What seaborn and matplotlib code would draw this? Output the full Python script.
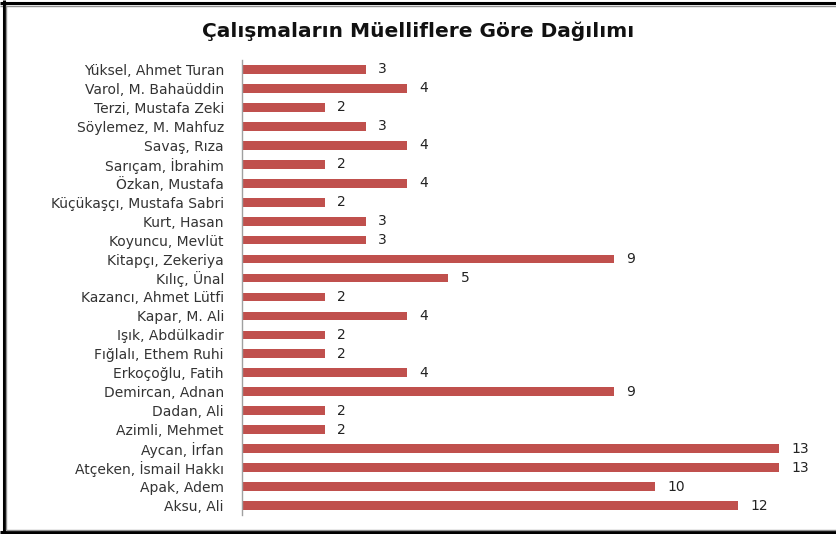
import matplotlib
matplotlib.use("Agg")
import matplotlib.pyplot as plt
import pandas as pd
import seaborn as sns
from matplotlib.lines import Line2D

# Data (top to bottom as shown)
authors = ["Yüksel, Ahmet Turan", "Varol, M. Bahaüddin", "Terzi, Mustafa Zeki",
           "Söylemez, M. Mahfuz", "Savaş, Rıza", "Sarıçam, İbrahim",
           "Özkan, Mustafa", "Küçükaşçı, Mustafa Sabri", "Kurt, Hasan",
           "Koyuncu, Mevlüt", "Kitapçı, Zekeriya", "Kılıç, Ünal",
           "Kazancı, Ahmet Lütfi", "Kapar, M. Ali", "Işık, Abdülkadir",
           "Fığlalı, Ethem Ruhi", "Erkoçoğlu, Fatih", "Demircan, Adnan",
           "Dadan, Ali", "Azimli, Mehmet", "Aycan, İrfan",
           "Atçeken, İsmail Hakkı", "Apak, Adem", "Aksu, Ali"]
counts = [3, 4, 2, 3, 4, 2, 4, 2, 3, 3, 9, 5, 2, 4, 2, 2, 4, 9, 2, 2, 13, 13, 10, 12]

df = pd.DataFrame({"author": authors, "count": counts})

sns.set_style("white")
plt.rcParams["font.family"] = ["DejaVu Sans"]

fig = plt.figure(figsize=(8.37, 5.34), dpi=100)
W, H = 837, 534
ax = fig.add_axes([242 / W, 1 - 515 / H, 14 * 41.3 / W, 455 / H])

sns.barplot(data=df, x="count", y="author", orient="h", color="#C0504D",
            width=0.46, saturation=1, linewidth=0, ax=ax)
ax.bar_label(ax.containers[0], padding=9, fontsize=10, color="#222222")

ax.set_xlim(0, 14)
ax.set_ylim(len(authors) - 0.5, -0.5)
ax.set_xlabel("")
ax.set_ylabel("")
ax.set_xticks([])
for s in ["top", "right", "bottom"]:
    ax.spines[s].set_visible(False)
ax.spines["left"].set_color("#A0A0A0")
ax.spines["left"].set_linewidth(1)
ax.tick_params(axis="y", length=0, pad=13, labelsize=10, labelcolor="#333333")

fig.text(0.5, 1 - 31 / H, "Çalışmaların Müelliflere Göre Dağılımı",
         ha="center", va="center", fontsize=14.5, fontweight="bold", color="#111111")

# frame: black outer line with a gray inner line (top, left, bottom)
def fline(x0, y0, x1, y1, color, lw):
    fig.add_artist(Line2D([x0 / W, x1 / W], [1 - y0 / H, 1 - y1 / H],
                          transform=fig.transFigure, color=color, linewidth=lw,
                          solid_capstyle="butt"))

fline(0, 3, W, 3, "black", 2.2)
fline(0, 5.5, W, 5.5, "#909090", 1)
fline(4, 0, 4, H, "black", 2.2)
fline(6.5, 5, 6.5, 530, "#909090", 1)
fline(0, 532, W, 532, "black", 2.2)
fline(6, 530, W, 530, "#909090", 1)

fig.savefig("out.png", dpi=100)
